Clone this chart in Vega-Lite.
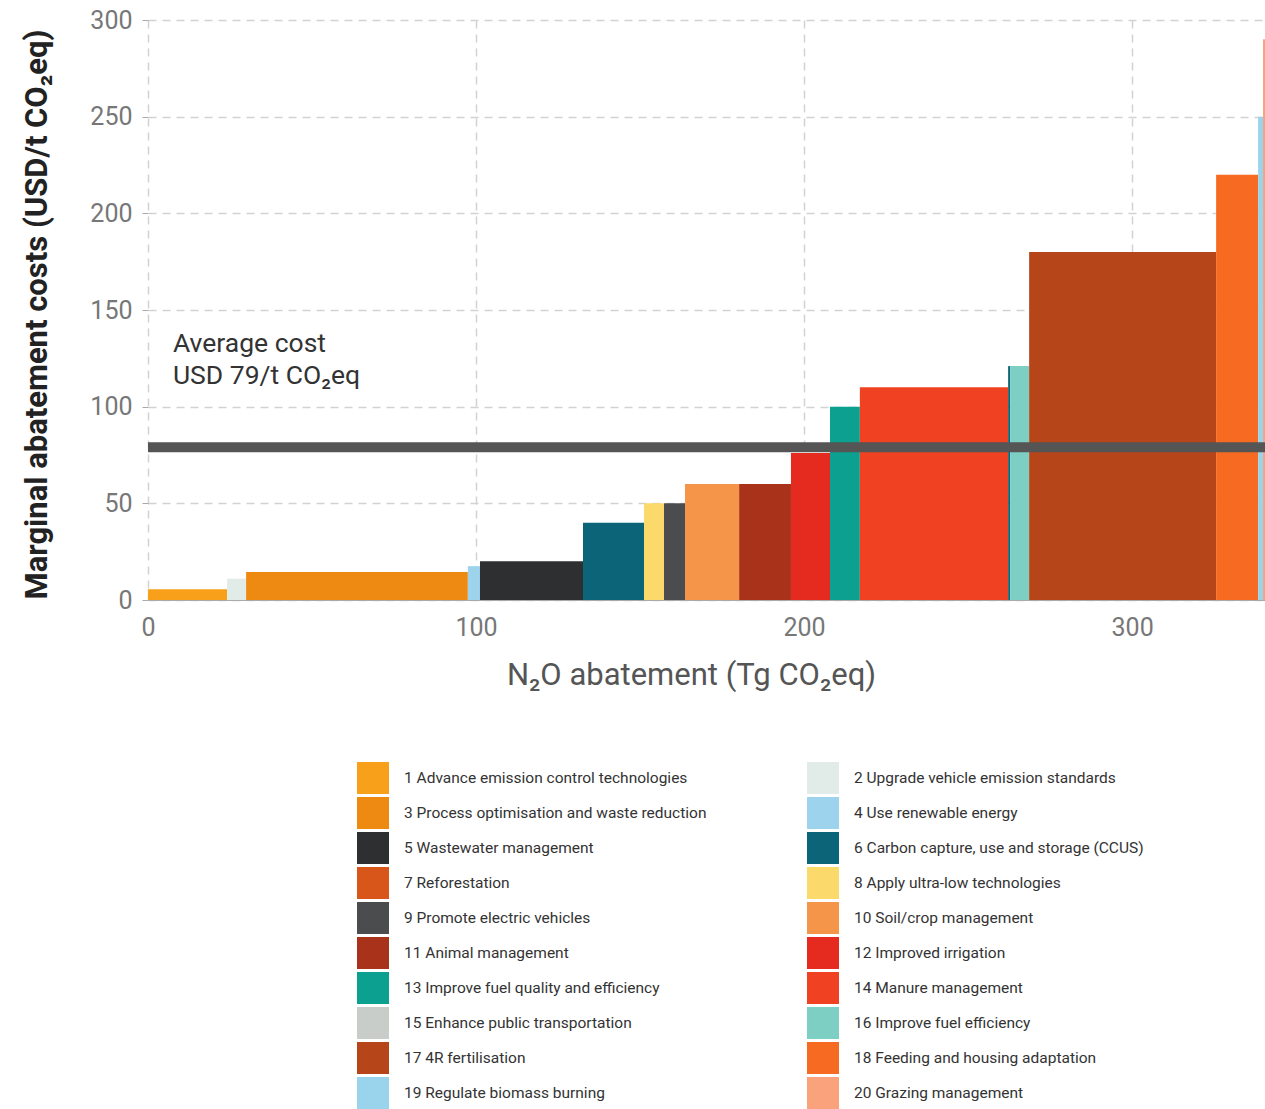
{
  "$schema": "https://vega.github.io/schema/vega-lite/v6.json",
  "autosize": {"type": "none"},
  "padding": {"left": 148, "top": 20, "right": 0, "bottom": 509},
  "width": 1117,
  "height": 580,
  "background": "white",
  "config": {"view": {"stroke": null}, "font": "Roboto"},
  "datasets": {
    "bars": [
      {"measure": "1 Advance emission control technologies", "start": 0, "end": 24.1, "cost": 5.5},
      {"measure": "2 Upgrade vehicle emission standards", "start": 24.1, "end": 29.9, "cost": 11},
      {"measure": "3 Process optimisation and waste reduction", "start": 29.9, "end": 97.5, "cost": 14.5},
      {"measure": "4 Use renewable energy", "start": 97.5, "end": 101.2, "cost": 17.5},
      {"measure": "5 Wastewater management", "start": 101.2, "end": 132.6, "cost": 20},
      {"measure": "6 Carbon capture, use and storage (CCUS)", "start": 132.6, "end": 151.2, "cost": 40},
      {"measure": "8 Apply ultra-low technologies", "start": 151.2, "end": 157.3, "cost": 50},
      {"measure": "9 Promote electric vehicles", "start": 157.3, "end": 163.7, "cost": 50},
      {"measure": "10 Soil/crop management", "start": 163.7, "end": 180.2, "cost": 60},
      {"measure": "11 Animal management", "start": 180.2, "end": 196.0, "cost": 60},
      {"measure": "12 Improved irrigation", "start": 196.0, "end": 207.9, "cost": 76},
      {"measure": "13 Improve fuel quality and efficiency", "start": 207.9, "end": 217.0, "cost": 100},
      {"measure": "14 Manure management", "start": 217.0, "end": 262.2, "cost": 110},
      {"measure": "6 Carbon capture, use and storage (CCUS)", "start": 262.2, "end": 262.8, "cost": 121},
      {"measure": "16 Improve fuel efficiency", "start": 262.8, "end": 268.6, "cost": 121},
      {"measure": "17 4R fertilisation", "start": 268.6, "end": 325.6, "cost": 180},
      {"measure": "18 Feeding and housing adaptation", "start": 325.6, "end": 338.4, "cost": 220},
      {"measure": "19 Regulate biomass burning", "start": 338.4, "end": 339.9, "cost": 250},
      {"measure": "20 Grazing management", "start": 339.9, "end": 342, "cost": 290}
    ],
    "notes": [
      {"label": "Average cost", "x": 7.6, "y": 132.4},
      {"label": "USD 79/t CO₂eq", "x": 7.6, "y": 115.8}
    ],
    "avg": [{"cost": 79}]
  },
  "layer": [
    {
      "data": {"name": "bars"},
      "mark": {"type": "rect", "clip": true},
      "encoding": {
        "x": {
          "field": "start", "type": "quantitative",
          "scale": {"domain": [0, 340.5], "nice": false, "zero": false},
          "axis": {
            "values": [0, 100, 200, 300],
            "title": "N₂O abatement (Tg CO₂eq)",
            "titleFont": "Roboto", "titleFontSize": 31, "titleFontWeight": "normal", "titleColor": "#555555",
            "titleX": 543, "titleY": 75, "titleAlign": "center", "titleBaseline": "middle",
            "labelFont": "Roboto", "labelFontSize": 25, "labelColor": "#777777", "labelPadding": 15,
            "labelFlush": false, "labelDx": -5,
            "ticks": false,
            "domain": true, "domainColor": "#aaaaaa", "domainWidth": 1,
            "grid": true, "gridColor": "#d2d2d2", "gridDash": [8, 6], "gridWidth": 1.5
          }
        },
        "x2": {"field": "end"},
        "y": {
          "field": "cost", "type": "quantitative",
          "scale": {"domain": [0, 300], "nice": false},
          "axis": {
            "values": [0, 50, 100, 150, 200, 250, 300],
            "title": "Marginal abatement costs (USD/t CO₂eq)",
            "titleFont": "Roboto", "titleFontSize": 31, "titleFontWeight": "bold", "titleColor": "#222222",
            "titleX": -111, "titleY": 294, "titleAngle": -90, "titleAlign": "center", "titleBaseline": "middle",
            "labelFont": "Roboto", "labelFontSize": 25, "labelColor": "#777777", "labelPadding": 10,
            "ticks": true, "tickSize": 6, "tickColor": "#aaaaaa",
            "domain": false,
            "grid": true, "gridColor": "#d2d2d2", "gridDash": [8, 6], "gridWidth": 1.5
          }
        },
        "y2": {"datum": 0},
        "color": {
          "field": "measure", "type": "nominal",
          "scale": {
            "domain": [
              "1 Advance emission control technologies",
              "2 Upgrade vehicle emission standards",
              "3 Process optimisation and waste reduction",
              "4 Use renewable energy",
              "5 Wastewater management",
              "6 Carbon capture, use and storage (CCUS)",
              "7 Reforestation",
              "8 Apply ultra-low technologies",
              "9 Promote electric vehicles",
              "10 Soil/crop management",
              "11 Animal management",
              "12 Improved irrigation",
              "13 Improve fuel quality and efficiency",
              "14 Manure management",
              "15 Enhance public transportation",
              "16 Improve fuel efficiency",
              "17 4R fertilisation",
              "18 Feeding and housing adaptation",
              "19 Regulate biomass burning",
              "20 Grazing management"
            ],
            "range": [
              "#f9a01b", "#e1ebe8", "#ee8a12", "#9dd3ec", "#2d2f31",
              "#0b6477", "#d9561b", "#fbd96a", "#4a4c4e", "#f5954a",
              "#a8321a", "#e52b20", "#0ba08f", "#f04223", "#c8cdca",
              "#7ecfc3", "#b7451a", "#f76a22", "#9ad3ec", "#f9a27c"
            ]
          },
          "legend": {
            "orient": "none", "legendX": 209, "legendY": 742,
            "direction": "horizontal",
            "columns": 2, "columnPadding": 100, "rowPadding": 3,
            "title": null,
            "symbolType": "square", "symbolSize": 1024, "symbolStrokeWidth": 0, "symbolOpacity": 1,
            "labelFont": "Roboto", "labelFontSize": 15.5, "labelColor": "#333333",
            "labelOffset": 15, "labelLimit": 500
          }
        }
      }
    },
    {
      "data": {"name": "avg"},
      "mark": {"type": "rule", "color": "#555555", "strokeWidth": 10},
      "encoding": {"y": {"field": "cost", "type": "quantitative"}}
    },
    {
      "data": {"name": "notes"},
      "mark": {"type": "text", "align": "left", "baseline": "middle", "font": "Roboto", "fontSize": 26.5, "color": "#333333"},
      "encoding": {
        "x": {"field": "x", "type": "quantitative"},
        "y": {"field": "y", "type": "quantitative"},
        "text": {"field": "label"}
      }
    }
  ]
}
